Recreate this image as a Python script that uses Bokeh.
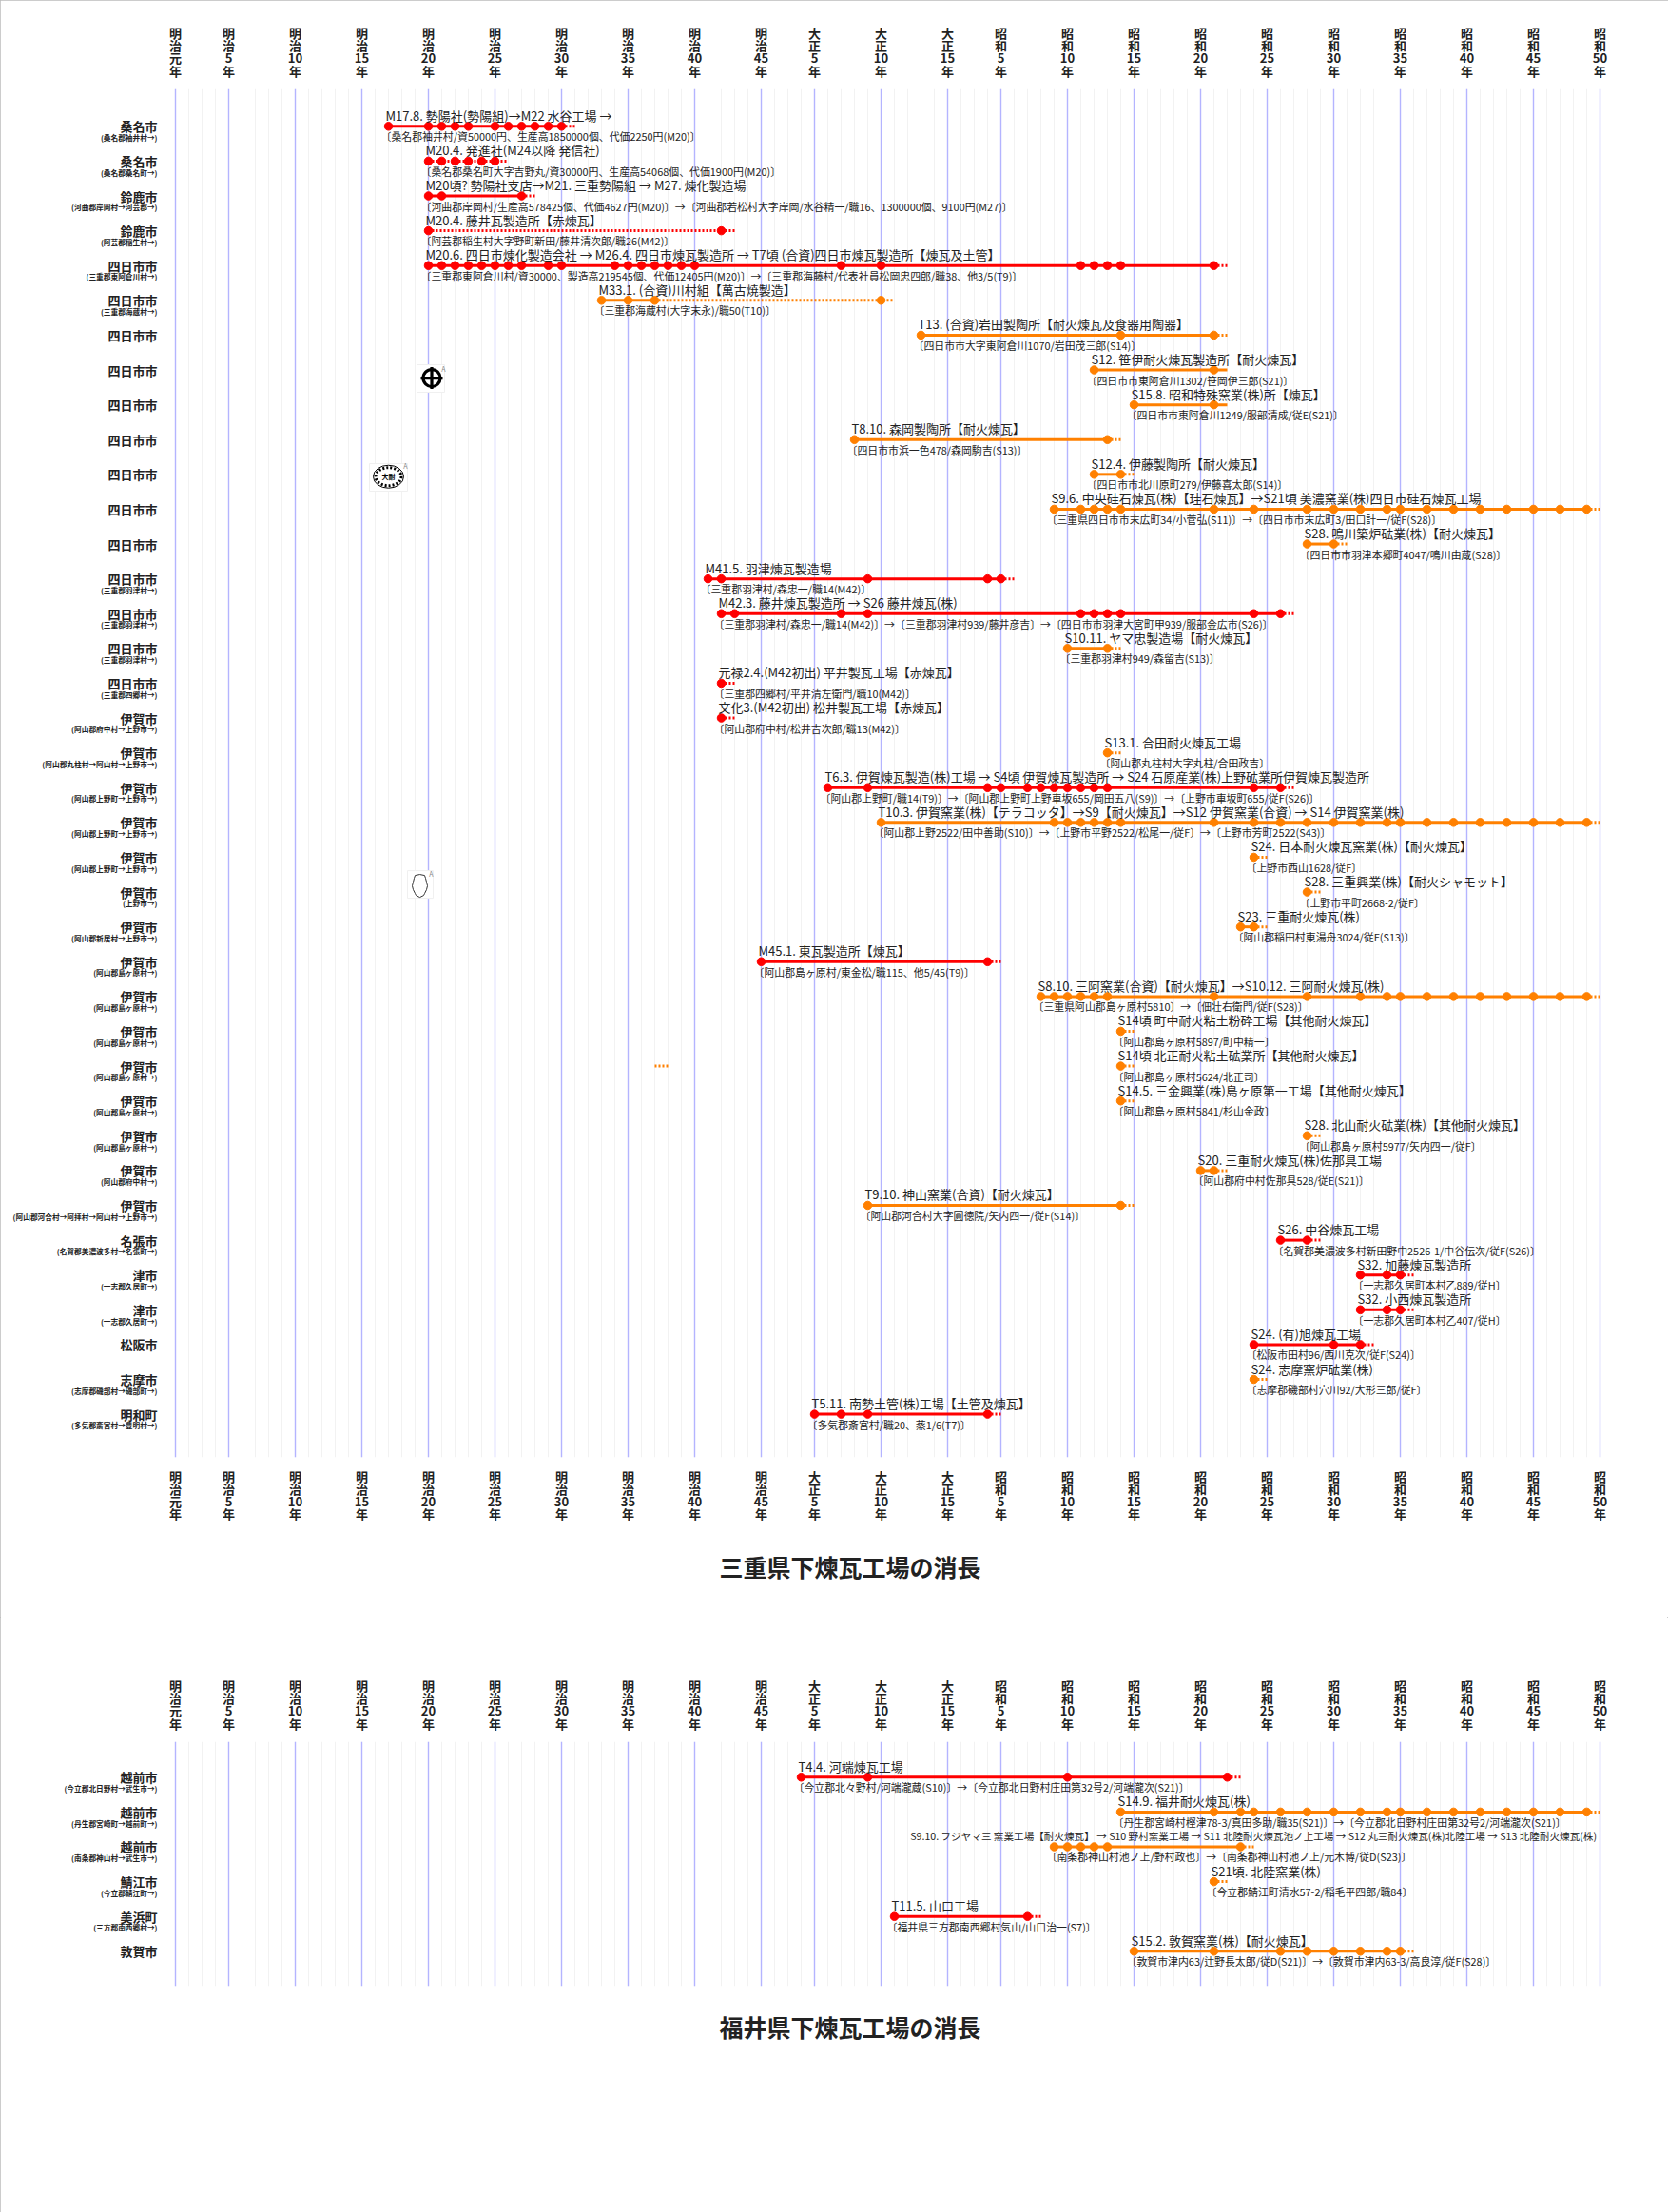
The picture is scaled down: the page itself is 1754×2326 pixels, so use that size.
from bokeh.plotting import figure
from bokeh.layouts import column
from bokeh.models import ColumnDataSource, FixedTicker, Title, Range1d, LinearAxis
from bokeh.core.properties import value
from bokeh.embed import file_html
from bokeh.resources import INLINE

FONT = "Noto Sans CJK JP"
RED = "#ff0000"
ORANGE = "#ff8000"

axis_years = [1868,1872,1877,1882,1887,1892,1897,1902,1907,1912,1916,1921,1926,1930,1935,1940,1945,1950,1955,1960,1965,1970,1975]
axis_labels = ["明治元年","明治5年","明治10年","明治15年","明治20年","明治25年","明治30年","明治35年","明治40年","明治45年",
               "大正5年","大正10年","大正15年","昭和5年","昭和10年","昭和15年","昭和20年","昭和25年","昭和30年","昭和35年","昭和40年","昭和45年","昭和50年"]

mie_title = "三重県下煉瓦工場の消長"
mie_city = ["桑名市","桑名市","鈴鹿市","鈴鹿市","四日市市","四日市市","四日市市","四日市市","四日市市","四日市市","四日市市","四日市市","四日市市",
            "四日市市","四日市市","四日市市","四日市市","伊賀市","伊賀市","伊賀市","伊賀市","伊賀市","伊賀市","伊賀市","伊賀市","伊賀市","伊賀市","伊賀市","伊賀市","伊賀市","伊賀市","伊賀市",
            "名張市","津市","津市","松阪市","志摩市","明和町"]
mie_sub = ["(桑名郡袖井村→)","(桑名郡桑名町→)","(河曲郡岸岡村→河芸郡→)","(阿芸郡稲生村→)","(三重郡東阿倉川村→)","(三重郡海蔵村→)","","","","","","","",
           "(三重郡羽津村→)","(三重郡羽津村→)","(三重郡羽津村→)","(三重郡四郷村→)","(阿山郡府中村→上野市→)","(阿山郡丸柱村→阿山村→上野市→)","(阿山郡上野町→上野市→)","(阿山郡上野町→上野市→)","(阿山郡上野町→上野市→)","(上野市→)","(阿山郡新居村→上野市→)",
           "(阿山郡島ヶ原村→)","(阿山郡島ヶ原村→)","(阿山郡島ヶ原村→)","(阿山郡島ヶ原村→)","(阿山郡島ヶ原村→)","(阿山郡島ヶ原村→)","(阿山郡府中村→)","(阿山郡河合村→阿拝村→阿山村→上野市→)",
           "(名賀郡美濃波多村→名張町→)","(一志郡久居町→)","(一志郡久居町→)","","(志摩郡磯部村→磯部町→)","(多気郡斎宮村→豊明村→)"]
mie_names = ["M17.8. 勢陽社(勢陽組)→M22 水谷工場 →","M20.4. 発進社(M24以降 発信社)","M20頃? 勢陽社支店→M21. 三重勢陽組 → M27. 煉化製造場","M20.4. 藤井瓦製造所【赤煉瓦】",
             "M20.6. 四日市煉化製造会社 → M26.4. 四日市煉瓦製造所 → T7頃 (合資)四日市煉瓦製造所【煉瓦及土管】","M33.1. (合資)川村組【萬古焼製造】","T13. (合資)岩田製陶所【耐火煉瓦及食器用陶器】",
             "S12. 笹伊耐火煉瓦製造所【耐火煉瓦】","S15.8. 昭和特殊窯業(株)所【煉瓦】","T8.10. 森岡製陶所【耐火煉瓦】","S12.4. 伊藤製陶所【耐火煉瓦】",
             "S9.6. 中央硅石煉瓦(株)【珪石煉瓦】→S21頃 美濃窯業(株)四日市硅石煉瓦工場","S28. 鳴川築炉砿業(株)【耐火煉瓦】","M41.5. 羽津煉瓦製造場","M42.3. 藤井煉瓦製造所 → S26 藤井煉瓦(株)",
             "S10.11. ヤマ忠製造場【耐火煉瓦】","元禄2.4.(M42初出) 平井製瓦工場【赤煉瓦】","文化3.(M42初出) 松井製瓦工場【赤煉瓦】","S13.1. 合田耐火煉瓦工場",
             "T6.3. 伊賀煉瓦製造(株)工場 → S4頃 伊賀煉瓦製造所 → S24 石原産業(株)上野砿業所伊賀煉瓦製造所","T10.3. 伊賀窯業(株)【テラコッタ】→S9【耐火煉瓦】→S12 伊賀窯業(合資) → S14 伊賀窯業(株)",
             "S24. 日本耐火煉瓦窯業(株)【耐火煉瓦】","S28. 三重興業(株)【耐火シャモット】","S23. 三重耐火煉瓦(株)","M45.1. 東瓦製造所【煉瓦】","S8.10. 三阿窯業(合資)【耐火煉瓦】→S10.12. 三阿耐火煉瓦(株)",
             "S14頃 町中耐火粘土粉砕工場【其他耐火煉瓦】","S14頃 北正耐火粘土砿業所【其他耐火煉瓦】","S14.5. 三金興業(株)島ヶ原第一工場【其他耐火煉瓦】","S28. 北山耐火砿業(株)【其他耐火煉瓦】",
             "S20. 三重耐火煉瓦(株)佐那具工場","T9.10. 神山窯業(合資)【耐火煉瓦】","S26. 中谷煉瓦工場","S32. 加藤煉瓦製造所","S32. 小西煉瓦製造所","S24. (有)旭煉瓦工場","S24. 志摩窯炉砿業(株)","T5.11. 南勢土管(株)工場【土管及煉瓦】"]
mie_notes = ["〔桑名郡袖井村/資50000円、生産高1850000個、代価2250円(M20)〕","〔桑名郡桑名町大字吉野丸/資30000円、生産高54068個、代価1900円(M20)〕",
             "〔河曲郡岸岡村/生産高578425個、代価4627円(M20)〕→〔河曲郡若松村大字岸岡/水谷精一/職16、1300000個、9100円(M27)〕","〔阿芸郡稲生村大字野町新田/藤井清次郎/職26(M42)〕",
             "〔三重郡東阿倉川村/資30000、製造高219545個、代価12405円(M20)〕→〔三重郡海藤村/代表社員松岡忠四郎/職38、他3/5(T9)〕","〔三重郡海蔵村(大字末永)/職50(T10)〕",
             "〔四日市市大字東阿倉川1070/岩田茂三郎(S14)〕","〔四日市市東阿倉川1302/笹岡伊三郎(S21)〕","〔四日市市東阿倉川1249/服部清成/従E(S21)〕","〔四日市市浜一色478/森岡駒吉(S13)〕","〔四日市市北川原町279/伊藤喜太郎(S14)〕",
             "〔三重県四日市市末広町34/小菅弘(S11)〕→〔四日市市末広町3/田口計一/従F(S28)〕","〔四日市市羽津本郷町4047/鳴川由蔵(S28)〕","〔三重郡羽津村/森忠一/職14(M42)〕",
             "〔三重郡羽津村/森忠一/職14(M42)〕→〔三重郡羽津村939/藤井彦吉〕→〔四日市市羽津大宮町甲939/服部金広市(S26)〕","〔三重郡羽津村949/森留吉(S13)〕","〔三重郡四郷村/平井清左衛門/職10(M42)〕","〔阿山郡府中村/松井吉次郎/職13(M42)〕","〔阿山郡丸柱村大字丸柱/合田政吉〕",
             "〔阿山郡上野町/職14(T9)〕→〔阿山郡上野町上野車坂655/岡田五八(S9)〕→〔上野市車坂町655/従F(S26)〕","〔阿山郡上野2522/田中善助(S10)〕→〔上野市平野2522/松尾一/従F〕→〔上野市芳町2522(S43)〕",
             "〔上野市西山1628/従F〕","〔上野市平町2668-2/従F〕","〔阿山郡稲田村東湯舟3024/従F(S13)〕","〔阿山郡島ヶ原村/東金松/職115、他5/45(T9)〕","〔三重県阿山郡島ヶ原村5810〕→〔佃壮右衛門/従F(S28)〕",
             "〔阿山郡島ヶ原村5897/町中精一〕","〔阿山郡島ヶ原村5624/北正司〕","〔阿山郡島ヶ原村5841/杉山金政〕","〔阿山郡島ヶ原村5977/矢内四一/従F〕","〔阿山郡府中村佐那具528/従E(S21)〕","〔阿山郡河合村大字圓徳院/矢内四一/従F(S14)〕",
             "〔名賀郡美濃波多村新田野中2526-1/中谷伝次/従F(S26)〕","〔一志郡久居町本村乙889/従H〕","〔一志郡久居町本村乙407/従H〕","〔松阪市田村96/西川克次/従F(S24)〕","〔志摩郡磯部村穴川92/大形三郎/従F〕","〔多気郡斎宮村/職20、蒸1/6(T7)〕"]
tail_years = [1960,1962,1964,1966,1968,1970,1972,1974]
mie_dots = [
 [1884,1887,1888,1889,1890,1892,1893,1894,1895,1896,1897],
 [1887,1888,1889,1890,1891,1892],
 [1887,1888,1894],
 [1887,1909],
 [1887,1888,1889,1890,1891,1892,1893,1894,1896,1897,1901,1902,1903,1904,1905,1906,1907,1918,1921,1936,1937,1938,1939,1946],
 [1900,1902,1904,1921],
 [1924,1939,1946],
 [1937,1946],
 [1940,1946],
 [1919,1938],
 [1937,1939],
 [1934,1936,1937,1938,1939,1946,1949,1953,1955,1957,1959]+tail_years,
 [1953,1955],
 [1908,1909,1920,1929,1930],
 [1909,1910,1918,1920,1936,1937,1938,1939,1949,1951],
 [1935,1938],
 [1909],
 [1909],
 [1938],
 [1917,1920,1929,1930,1932,1933,1934,1935,1936,1937,1938,1949,1951],
 [1921,1934,1935,1936,1937,1938,1939,1946,1949,1951,1953,1955,1957,1959]+tail_years,
 [1949],
 [1953],
 [1948,1949],
 [1912,1929],
 [1933,1934,1935,1936,1937,1938,1946,1953,1957,1959]+tail_years,
 [1939],
 [1939],
 [1939],
 [1953],
 [1945,1946],
 [1920,1939],
 [1951,1953],
 [1957,1959,1960],
 [1957,1959,1960],
 [1949,1955,1957],
 [1949],
 [1916,1918,1920,1929],
]
mie_colors = "RRRRRO OOOOOOO RRO RR O R O OOO R OOOOOOO RRRR O R".replace(" ","")
# year up to which the line is solid, for rows that differ from "solid to the last survey"
mie_solid_end = {1:1887, 3:1887, 5:1904, 7:1947, 8:1947}
mie_stray = [(27,1904,1905)]

fukui_title = "福井県下煉瓦工場の消長"
fukui_city = ["越前市","越前市","越前市","鯖江市","美浜町","敦賀市"]
fukui_sub = ["(今立郡北日野村→武生市→)","(丹生郡宮崎町→越前町→)","(南条郡神山村→武生市→)","(今立郡鯖江町→)","(三方郡南西郷村→)",""]
fukui_names = ["T4.4. 河端煉瓦工場","S14.9. 福井耐火煉瓦(株)",
               "S9.10. フジヤマ三 窯業工場【耐火煉瓦】 → S10 野村窯業工場 → S11 北陸耐火煉瓦池ノ上工場 → S12 丸三耐火煉瓦(株)北陸工場 → S13 北陸耐火煉瓦(株)",
               "S21頃. 北陸窯業(株)","T11.5. 山口工場","S15.2. 敦賀窯業(株)【耐火煉瓦】"]
fukui_notes = ["〔今立郡北々野村/河端瀧蔵(S10)〕→〔今立郡北日野村庄田第32号2/河端瀧次(S21)〕","〔丹生郡宮崎村樫津78-3/真田多助/職35(S21)〕→〔今立郡北日野村庄田第32号2/河端瀧次(S21)〕",
               "〔南条郡神山村池ノ上/野村政也〕→〔南条郡神山村池ノ上/元木博/従D(S23)〕","〔今立郡鯖江町清水57-2/稲毛平四郎/職84〕","〔福井県三方郡南西郷村気山/山口治一(S7)〕","〔敦賀市津内63/辻野長太郎/従D(S21)〕→〔敦賀市津内63-3/高良淳/従F(S28)〕"]
fukui_dots = [
 [1915,1920,1935,1947],
 [1939,1946,1948,1949,1951,1953,1955,1957,1959]+tail_years,
 [1934,1935,1936,1937,1938,1948],
 [1946],
 [1922,1932],
 [1940,1946,1951,1953,1955,1957,1959,1960],
]
fukui_colors = "RO" "OO" "RO"
fukui_solid_end = {}
fukui_title_year = {2:1923.2}
fukui_title_size = {2:"10.6px"}

X0, X1 = 1867, 1976.2857
TXT = "#222222"
SUB_DROP = 0.32   # sub-label line sits this many rows below its city

def _split(l):
    # era (2 chars), number, 年 — one per line
    return [l[0], l[1], l[2:-1], l[-1]]

def make_panel(city, sub, names, notes, dots, colors, solid_end, stray, y_start, y_end, height, top, bottom,
               title, title_standoff, title_offset, with_below, title_year={}, title_size={}):
    p = figure(width=1754, height=height, output_backend="svg", toolbar_location=None,
               x_range=Range1d(X0, X1), y_range=Range1d(y_start, y_end),
               min_border_left=170, min_border_right=54, min_border_top=top, min_border_bottom=bottom,
               x_axis_location=None, y_axis_location="left", outline_line_color=None, background_fill_color="white")
    over = {y: "\n".join(_split(l)) for y, l in zip(axis_years, axis_labels)}
    def add_x(side, standoff):
        ax = LinearAxis(ticker=FixedTicker(ticks=axis_years), major_label_overrides=over)
        ax.axis_line_color = None
        ax.major_tick_line_color = None
        ax.minor_tick_line_color = None
        ax.major_tick_out = 0
        ax.major_tick_in = 0
        ax.major_label_standoff = standoff
        ax.major_label_text_font = FONT
        ax.major_label_text_font_style = "bold"
        ax.major_label_text_font_size = "13px"
        ax.major_label_text_color = "#222222"
        ax.major_label_text_line_height = 0.69
        ax.major_label_orientation = "horizontal"
        p.add_layout(ax, side)
    add_x("above", 10)
    if with_below:
        add_x("below", 10)
    yax = p.yaxis[0]
    yax.ticker = FixedTicker(ticks=list(range(len(city))))
    yax.major_label_overrides = {i: c for i, c in enumerate(city)}
    yax.axis_line_color = None
    yax.major_tick_line_color = None
    yax.minor_tick_line_color = None
    yax.major_tick_out = 0
    yax.major_tick_in = 0
    yax.major_label_standoff = 5
    yax.major_label_text_font = FONT
    yax.major_label_text_font_style = "bold"
    yax.major_label_text_font_size = "13px"
    yax.major_label_text_color = "#222222"
    # second left axis for the small former-municipality lines, pulled in over the first
    sub_rows = [i for i, s in enumerate(sub) if s]
    sub_ticks = [i + SUB_DROP for i in sub_rows]
    sax = LinearAxis(ticker=FixedTicker(ticks=sub_ticks),
                     major_label_overrides={i + SUB_DROP: sub[i] for i in sub_rows})
    sax.axis_line_color = None
    sax.major_tick_line_color = None
    sax.minor_tick_line_color = None
    sax.major_tick_out = 0
    sax.major_tick_in = 0
    sax.major_label_standoff = -13 * max(len(c) for c in city) - 3
    sax.major_label_text_font = FONT
    sax.major_label_text_font_style = "bold"
    sax.major_label_text_font_size = "7.7px"
    sax.major_label_text_color = "#222222"
    p.add_layout(sax, "left")
    # grid
    p.xgrid.ticker = FixedTicker(ticks=axis_years, minor_ticks=list(range(1868, 1976)))
    p.xgrid.grid_line_color = "#b4b4ff"
    p.xgrid.grid_line_width = 1.4
    p.xgrid.minor_grid_line_color = "#f2f2f2"
    p.xgrid.minor_grid_line_width = 1
    p.ygrid.visible = False
    # lines + dots
    cols = {"R": RED, "O": ORANGE}
    sx0, sx1, sy, sc, dx0, dx1, dy, dc, px, py, pc = [], [], [], [], [], [], [], [], [], [], []
    for i, d in enumerate(dots):
        c = cols[colors[i]]
        last = d[-1]
        tail = last + 1
        se = solid_end.get(i, last)
        if se > d[0]:
            sx0.append(d[0]); sx1.append(se); sy.append(i); sc.append(c)
        if tail > se:
            dx0.append(se); dx1.append(tail); dy.append(i); dc.append(c)
        for v in d:
            px.append(v); py.append(i); pc.append(c)
    for (r, a, b) in stray:
        dx0.append(a); dx1.append(b); dy.append(r); dc.append(ORANGE)
    p.segment(x0="a", x1="b", y0="y", y1="y", line_color="c", line_width=3,
              source=ColumnDataSource(dict(a=sx0, b=sx1, y=sy, c=sc)))
    p.segment(x0="a", x1="b", y0="y", y1="y", line_color="c", line_width=3, line_dash="2 2",
              source=ColumnDataSource(dict(a=dx0, b=dx1, y=dy, c=dc)))
    p.scatter(x="x", y="y", color="c", size=8.5, marker="circle", source=ColumnDataSource(dict(x=px, y=py, c=pc)))
    # texts
    tx, ty, tt = [], [], []
    nx, ny, nt = [], [], []
    for i, d in enumerate(dots):
        if i not in title_size:
            tx.append(title_year.get(i, d[0])); ty.append(i); tt.append(names[i])
        nx.append(d[0]); ny.append(i); nt.append(notes[i])
    p.text(x=tx, y=ty, text=tt, x_offset=-3, y_offset=-11.5, text_baseline="middle", text_font=value(FONT),
           text_font_size="13px", text_color=TXT)
    p.text(x=nx, y=ny, text=nt, x_offset=-8, y_offset=10.5, text_baseline="middle", text_font=value(FONT),
           text_font_size="10.9px", text_color=TXT)
    for i, s in title_size.items():
        p.text(x=[title_year[i]], y=[i], text=[names[i]], y_offset=-11.5, text_baseline="middle", text_font=value(FONT),
               text_font_size=s, text_color=TXT)
    t = Title(text=title, align="left", offset=title_offset, standoff=title_standoff, text_font=FONT,
              text_font_size="25px", text_font_style="bold", text_color="#222222")
    p.add_layout(t, "below")
    return p

p1 = make_panel(mie_city, mie_sub, mie_names, mie_notes, mie_dots, mie_colors, mie_solid_end, mie_stray,
                38.24, -1.074, 1700, 93, 168, mie_title, 47, 586, True)
p2 = make_panel(fukui_city, fukui_sub, fukui_names, fukui_notes, fukui_dots, fukui_colors, fukui_solid_end, [],
                6.003, -1.019, 626, 131, 238, fukui_title, 44, 586, False, fukui_title_year, fukui_title_size)

# map symbols scattered on the first panel (kept as they appear in the source page)
def yr(px_x): return 1868 + (px_x - 184) / 14
def rw(px_y): return (px_y - 132.3) / 36.6
def box(x0, x1, y0, y1):
    p1.quad(left=[yr(x0)], right=[yr(x1)], top=[rw(y0)], bottom=[rw(y1)], fill_color="white", line_color="#f0f0f0", line_width=1)
box(438, 467, 383, 412)
p1.scatter(x=[yr(453.5)], y=[rw(397)], marker="circle", size=18, fill_color=None, line_color="black", line_width=3.2)
p1.scatter(x=[yr(453.5)], y=[rw(397)], marker="cross", size=23, line_color="black", line_width=3.2)
box(388, 428, 487, 516)
p1.ellipse(x=[yr(408)], y=[rw(500.7)], width=32, height=24, width_units="screen", height_units="screen", fill_color=None, line_color="black", line_width=1)
p1.ellipse(x=[yr(408)], y=[rw(500.7)], width=27, height=19, width_units="screen", height_units="screen", fill_color=None, line_color="black", line_width=3, line_dash="2 2")
p1.text(x=[yr(408)], y=[rw(500.7)], text=["大耐"], text_align="center", text_baseline="middle", text_font=value(FONT), text_font_style="bold", text_font_size="7px", text_color="black")
box(428, 455, 915, 944)
blob = [(-5,-11),(0,-12),(5,-11),(6,-8),(7,-4),(8,0),(7,4),(5,8),(4,10),(0,12),(-4,10),(-5,8),(-7,4),(-8,0),(-7,-4),(-6,-8),(-5,-11)]
p1.line([yr(441+a) for a, b in blob], [rw(931+b) for a, b in blob], line_color="#333333", line_width=1)
p1.text(x=[yr(466), yr(426), yr(453)], y=[rw(387), rw(489), rw(918)], text=["A","A","A"], text_align="center", text_baseline="middle",
        text_font=value(FONT), text_font_size="7px", text_color="#888888")

page = column(p1, p2, spacing=0, styles={"outline": "1.5px solid #bbbbbb", "outline-offset": "-1.5px"})
open("out.html", "w").write(file_html(page, INLINE))
